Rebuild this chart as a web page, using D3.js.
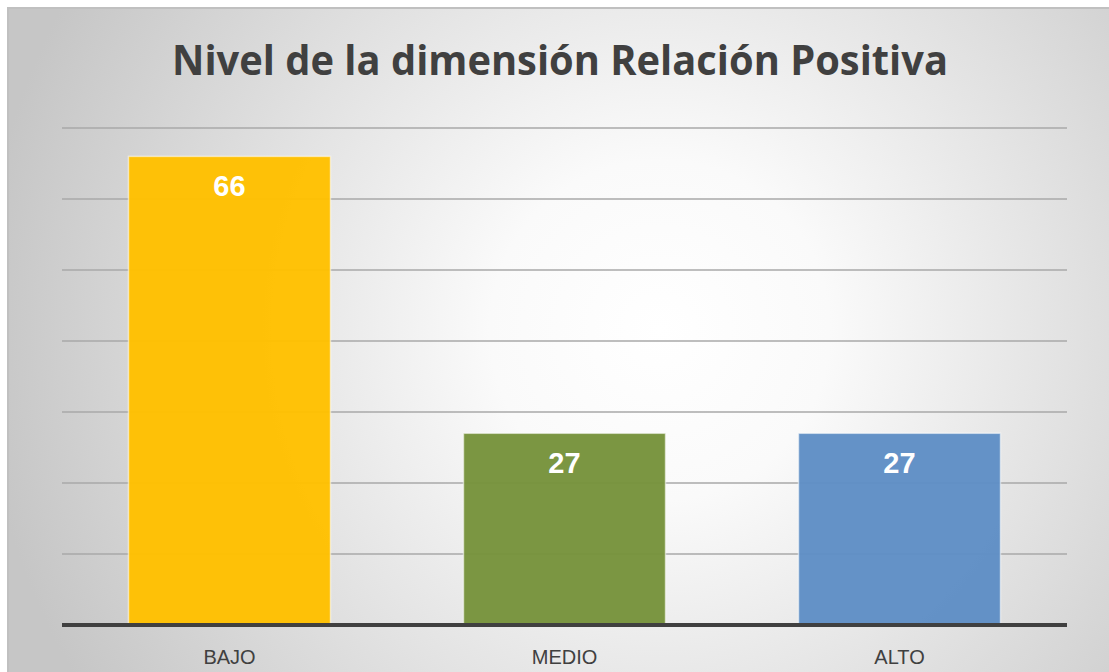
<!DOCTYPE html>
<html>
<head>
<meta charset="utf-8">
<script src="https://cdn.jsdelivr.net/npm/d3@7"></script>
<style>
  html, body { margin: 0; padding: 0; background: #ffffff; }
  svg { display: block; }
</style>
</head>
<body>
<svg id="chart" width="1109" height="672"></svg>
<script>
const categories = ["BAJO", "MEDIO", "ALTO"];
const values = [66, 27, 27];
const barColors = ["#FFC000", "#77933C", "#5F8EC5"];
const yTicks = [10, 20, 30, 40, 50, 60, 70];
const title = "Nivel de la dimensión Relación Positiva";

const W = 1109, H = 672;
const svg = d3.select("#chart");
const defs = svg.append("defs");
const grad = defs.append("radialGradient")
  .attr("id", "bg").attr("gradientUnits", "userSpaceOnUse")
  .attr("cx", 660).attr("cy", 330).attr("r", 680);
grad.append("stop").attr("offset", "0").attr("stop-color", "#ffffff");
grad.append("stop").attr("offset", "0.25").attr("stop-color", "#fafafa");
grad.append("stop").attr("offset", "0.6").attr("stop-color", "#e2e2e2");
grad.append("stop").attr("offset", "1").attr("stop-color", "#c6c6c6");

// chart frame
svg.append("rect").attr("x", 8).attr("y", 8).attr("width", W + 10).attr("height", H + 10)
  .attr("fill", "url(#bg)").attr("stroke", "#c0c0c0").attr("stroke-width", 2);

const plot = { left: 62, right: 1067, top: 128, bottom: 625 };

const x = d3.scaleBand().domain(categories)
  .range([plot.left, plot.right])
  .paddingInner(0.397).paddingOuter(0.1985);
const y = d3.scaleLinear().domain([0, 70]).range([plot.bottom, plot.top]);

// gridlines
svg.append("g").selectAll("line").data(yTicks).join("line")
  .attr("x1", plot.left).attr("x2", plot.right)
  .attr("y1", d => y(d)).attr("y2", d => y(d))
  .attr("stroke", "#a8a8a8").attr("stroke-width", 1.5);

// bars
svg.append("g").selectAll("rect").data(values).join("rect")
  .attr("x", (d, i) => x(categories[i]))
  .attr("y", d => y(d))
  .attr("width", x.bandwidth())
  .attr("height", d => y(0) - y(d))
  .attr("fill", (d, i) => barColors[i])
  .attr("fill-opacity", 0.97)
  .attr("stroke", "#ffffff").attr("stroke-opacity", 0.55).attr("stroke-width", 1.5);

// value labels
svg.append("g").selectAll("text").data(values).join("text")
  .attr("x", (d, i) => x(categories[i]) + x.bandwidth() / 2)
  .attr("y", d => y(d) + 40)
  .attr("text-anchor", "middle")
  .attr("font-family", "'Liberation Sans', Arial, sans-serif")
  .attr("font-weight", "bold").attr("font-size", 29)
  .attr("fill", "#ffffff")
  .text(d => d);

// baseline axis
const xAxis = d3.axisBottom(x).tickSize(0).tickPadding(0);
const axisG = svg.append("g").attr("transform", `translate(0,${plot.bottom})`).call(xAxis);
axisG.select(".domain").attr("stroke", "#404040").attr("stroke-width", 4)
  .attr("d", `M${plot.left},0H${plot.right}`);
axisG.selectAll(".tick text")
  .attr("dy", 0).attr("y", 39)
  .attr("font-family", "'Liberation Sans', Arial, sans-serif")
  .attr("font-size", 20).attr("fill", "#404040");

// title
svg.append("text")
  .attr("x", 560).attr("y", 75)
  .attr("text-anchor", "middle")
  .attr("font-family", "'Open Sans', 'Noto Sans', sans-serif")
  .attr("font-weight", "bold").attr("font-size", 42)
  .attr("fill", "#404040")
  .attr("textLength", 776).attr("lengthAdjust", "spacingAndGlyphs")
  .text(title);
</script>
</body>
</html>
